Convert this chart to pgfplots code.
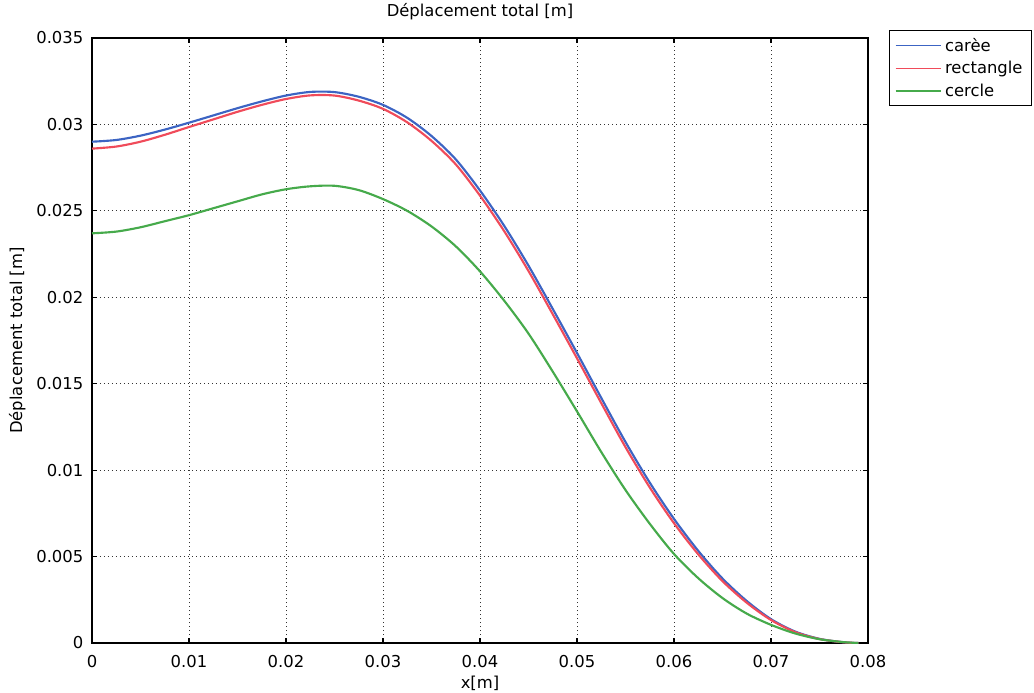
\documentclass[border=0pt]{standalone}
\usepackage{pgfplots}
\usepackage{pgfplotstable}
\pgfplotsset{compat=1.18}
\usepackage{fontspec}
\setmainfont{DejaVu Sans}
\definecolor{cblue}{RGB}{60,100,195}
\definecolor{cred}{RGB}{240,75,90}
\definecolor{cgreen}{RGB}{70,170,75}
\pgfplotstableread{
x       carree  rect   cercle
0       29.00   28.60  23.70
0.0025  29.10   28.72  23.80
0.005   29.35   29.00  24.05
0.0075  29.70   29.40  24.40
0.01    30.10   29.85  24.75
0.0125  30.52   30.29  25.15
0.015   30.94   30.73  25.55
0.0175  31.33   31.13  25.95
0.02    31.67   31.47  26.25
0.0225  31.88   31.68  26.42
0.025   31.87   31.67  26.45
0.0275  31.60   31.38  26.20
0.03    31.13   30.90  25.68
0.0325  30.38   30.12  25.00
0.035   29.33   29.05  24.10
0.0375  27.98   27.69  22.95
0.04    26.18   25.88  21.50
0.0425  24.13   23.82  19.80
0.045   21.83   21.52  17.90
0.0475  19.33   19.02  15.70
0.05    16.78   16.47  13.40
0.0525  14.18   13.88  11.05
0.055   11.63   11.33   8.85
0.0575   9.28    9.00   6.90
0.06     7.18    6.93   5.15
0.0625   5.33    5.13   3.75
0.065    3.73    3.58   2.60
0.0675   2.43    2.33   1.70
0.07     1.38    1.33   1.05
0.0725   0.66    0.63   0.55
0.075    0.24    0.23   0.22
0.0775   0.04    0.04   0.05
0.079    0.00    0.00   0.00
}\data
\begin{document}
\begin{tikzpicture}
\useasboundingbox (-69pt,-36.75pt) rectangle (706.5pt,482.25pt);
\begin{axis}[
  at={(0,0)}, anchor=south west,
  scale only axis, width=582pt, height=453.75pt,
  xmin=0, xmax=0.08, ymin=0, ymax=0.035,
  xtick={0,0.01,...,0.08},
  ytick={0,0.005,...,0.035},
  scaled ticks=false,
  /pgf/number format/fixed, /pgf/number format/precision=3,
  /pgf/number format/assume math mode=true,
  tick label style={font=\fontsize{12.3}{14}\selectfont},
  xticklabel style={yshift=-6pt},
  yticklabel style={xshift=-3pt},
  tick align=inside, tick pos=both,
  major tick length=4pt,
  tick style={black, line width=0.8pt},
  axis line style={black, line width=1pt},
  grid=major,
  major grid style={black!80, line width=0.7pt, dash pattern=on 0.9pt off 2.1pt},
  title={Déplacement total [m]},
  title style={font=\fontsize{12.3}{14}\selectfont, at={(axis description cs:0.5,1.0298)}, anchor=center},
  xlabel={x[m]},
  xlabel style={font=\fontsize{12.3}{14}\selectfont, at={(axis description cs:0.5,-0.0661)}, anchor=center},
  ylabel={Déplacement total [m]},
  ylabel style={font=\fontsize{12.3}{14}\selectfont, at={(axis description cs:-0.0962,0.5)}, anchor=center},
  legend cell align=left,
  legend style={at={(1.027,1.013)}, anchor=north west, draw=black, line width=0.8pt,
    fill=white, font=\fontsize{12.3}{14}\selectfont,
    nodes={inner sep=2.5pt}, row sep=1pt, inner xsep=4pt, inner ysep=3pt},
  legend image code/.code={\draw[#1, line width=1.2pt] (0pt,0pt) -- (34pt,0pt);},
]
\addplot[cblue, line width=1.6pt, smooth] table[x=x, y expr=\thisrow{carree}/1000] {\data};
\addlegendentry{carèe}
\addplot[cred, line width=1.6pt, smooth] table[x=x, y expr=\thisrow{rect}/1000] {\data};
\addlegendentry{rectangle}
\addplot[cgreen, line width=1.6pt, smooth] table[x=x, y expr=\thisrow{cercle}/1000] {\data};
\addlegendentry{cercle}
\end{axis}
\end{tikzpicture}
\end{document}
